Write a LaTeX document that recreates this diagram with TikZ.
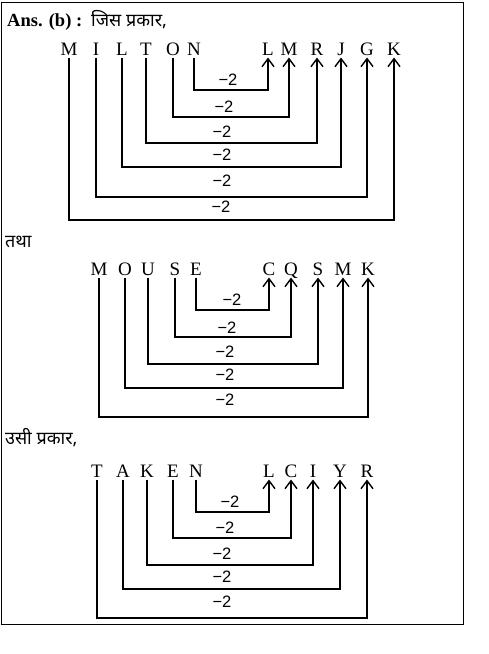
\documentclass[tikz,border=0pt]{standalone}
\usepackage{fontspec}
\setmainfont{Liberation Serif}
\newfontfamily\hindi[Script=Devanagari]{Noto Sans}
\newfontfamily\lblfont{Liberation Sans}
\usetikzlibrary{arrows.meta}
\newcommand\lnk[5]{%
  \coordinate (h) at (0,#3);
  \draw[arr] (#1.south) -- (#1.south |- h) -| (#2.south);
  \node[minus] at (#4,#5) {−2};}
\begin{document}
\begin{tikzpicture}[x=1pt,y=-1pt,
 letter/.style={font=\fontsize{19}{19}\selectfont, inner sep=0pt, outer sep=2.5pt, anchor=base, text height=13pt, text depth=0pt},
 minus/.style={font=\lblfont\fontsize{16.5}{16.5}\selectfont, inner sep=0pt},
 link/.style={line width=1.4pt, line join=miter},
 arr/.style={link, -{Straight Barb[length=8pt,width=12pt,line width=1.4pt]}},
 head/.style={anchor=base west, inner sep=0pt, font=\bfseries\fontsize{18.5}{18.5}\selectfont},
 hin/.style={anchor=base west, inner sep=0pt, font=\hindi\fontsize{18}{18}\selectfont}]
\useasboundingbox (0,0) rectangle (488,654);
\draw[line width=1pt] (1.5,2) rectangle (463,624);

% headings
\node[head] (ans) at (7,26) {Ans. (b) :};
\node[hin] (jis) at (91,26) {जिस प्रकार,};
\node[hin] (tatha) at (5,247) {तथा};
\node[hin] (usi) at (5,444) {उसी प्रकार,};

% block 1: MILTON -> LMRJGK
\foreach \n/\t/\x in {a1/M/69,a2/I/96,a3/L/122,a4/T/146,a5/O/173,a6/N/194}
  \node[letter] (\n) at (\x,55) {\t};
\foreach \n/\t/\x in {b1/L/268,b2/M/289,b3/R/317,b4/J/341,b5/G/367,b6/K/394}
  \node[letter] (\n) at (\x,55) {\t};
\lnk{a6}{b1}{90}{228}{80}
\lnk{a5}{b2}{117}{224}{107}
\lnk{a4}{b3}{143}{222}{132}
\lnk{a3}{b4}{167}{222}{155}
\lnk{a2}{b5}{197}{222}{181}
\lnk{a1}{b6}{220}{221}{207}

% block 2: MOUSE -> CQSMK
\foreach \n/\t/\x in {c1/M/99,c2/O/125,c3/U/148,c4/S/175,c5/E/196}
  \node[letter] (\n) at (\x,275) {\t};
\foreach \n/\t/\x in {d1/C/269,d2/Q/291,d3/S/318,d4/M/343,d5/K/368}
  \node[letter] (\n) at (\x,275) {\t};
\lnk{c5}{d1}{310}{232}{300}
\lnk{c4}{d2}{337}{227}{328}
\lnk{c3}{d3}{364}{225}{352}
\lnk{c2}{d4}{388}{225}{375}
\lnk{c1}{d5}{417}{225}{400}

% block 3: TAKEN -> LCIYR
\foreach \n/\t/\x in {e1/T/97,e2/A/123,e3/K/147,e4/E/173,e5/N/196}
  \node[letter] (\n) at (\x,477) {\t};
\foreach \n/\t/\x in {f1/L/269,f2/C/291,f3/I/313,f4/Y/340,f5/R/367}
  \node[letter] (\n) at (\x,477) {\t};
\lnk{e5}{f1}{512}{230}{502}
\lnk{e4}{f2}{538}{225}{528}
\lnk{e3}{f3}{565}{222}{554}
\lnk{e2}{f4}{589}{222}{577}
\lnk{e1}{f5}{618}{222}{602}
\end{tikzpicture}
\end{document}
